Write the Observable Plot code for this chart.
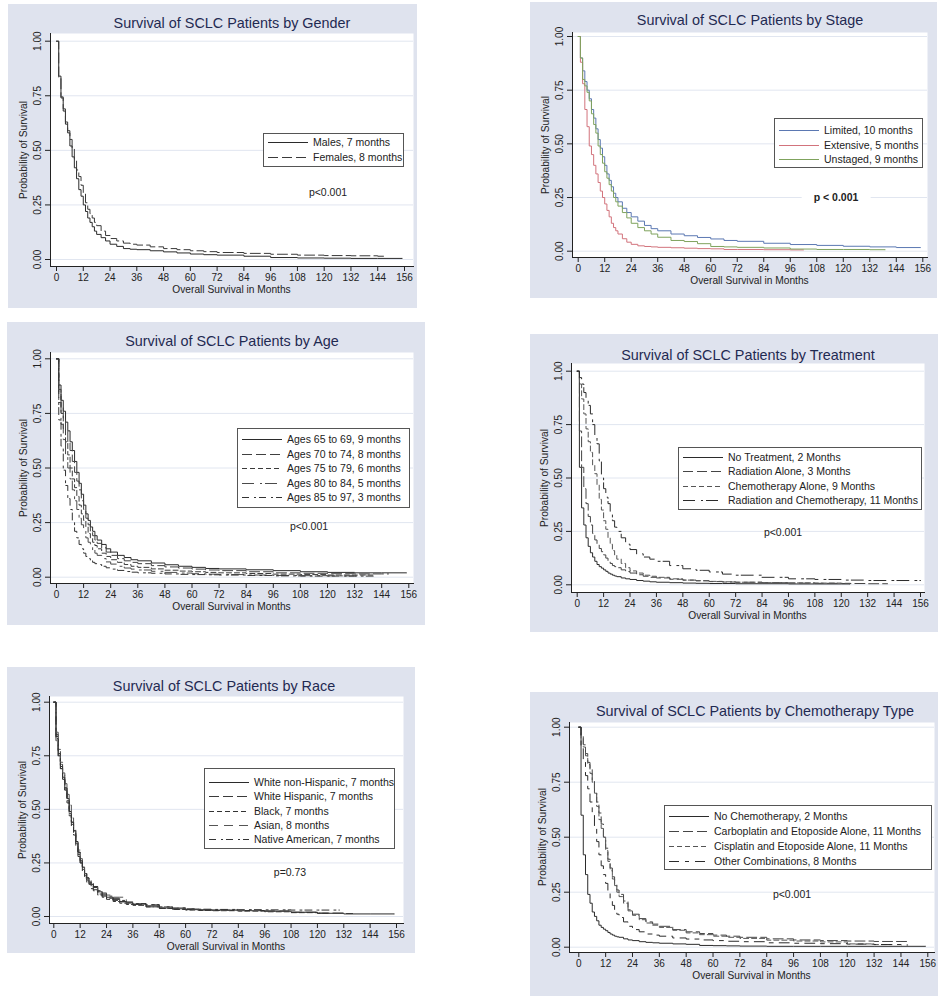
<!DOCTYPE html>
<html><head><meta charset="utf-8">
<script src="https://cdn.jsdelivr.net/npm/d3@7"></script>
<script src="https://cdn.jsdelivr.net/npm/@observablehq/plot@0.6"></script>
<style>
body{margin:0;background:#fff;font-family:"Liberation Sans",Arial,sans-serif;}
#root{position:relative;width:939px;height:996px;overflow:hidden;}
.panel{position:absolute;background:#dfe3ee;}
.panel svg{position:absolute;left:0;top:0;}
.ctr{position:absolute;white-space:nowrap;transform:translate(-50%,-50%);line-height:1;}
.title{font-size:14.4px;color:#1f2a52;}
.axt{font-size:10.2px;color:#222;}
.yt{transform:translate(-50%,-50%) rotate(-90deg);}
.pv{font-size:10.5px;color:#222;}
.legend{position:absolute;background:#fff;border:1px solid #555;box-sizing:border-box;}
.lrow{position:absolute;left:0;height:14px;line-height:14px;font-size:10.5px;color:#222;white-space:nowrap;}
.lrow svg{position:absolute;left:4px;top:0;}
.lrow span{position:absolute;left:49px;top:0;}
</style>
</head><body><div id="root"></div>
<script>
// ---------- shared axis values ----------
const monthTicks = [0,12,24,36,48,60,72,84,96,108,120,132,144,156];
const survTicks = [0,0.25,0.5,0.75,1];
// time grid (months) at which survival values were read
const monthsGrid = [0,1,2,3,4,5,6,7,8,9,10,11,12,13,14,15,16,17,18,20,22,24,27,30,33,36,42,48,54,60,66,72,84,96,108,120,132,144];

// ---------- Gender ----------
const genderLabels = ["Males, 7 months","Females, 8 months"];
const genderEnds = [155,147];
const males   = [1,.84,.74,.68,.62,.58,.52,.47,.42,.37,.32,.29,.25,.22,.19,.17,.15,.13,.115,.10,.085,.07,.06,.05,.047,.045,.04,.035,.03,.025,.022,.02,.015,.009,.007,.006,.005,.005];
const females = [1,.83,.745,.69,.63,.59,.55,.51,.46,.41,.38,.34,.30,.26,.23,.21,.19,.17,.155,.13,.11,.096,.085,.075,.07,.066,.058,.05,.045,.04,.036,.032,.028,.024,.02,.018,.017,.015];

// ---------- Stage ----------
const stageLabels = ["Limited, 10 months","Extensive, 5 months","Unstaged, 9 months"];
const stageEnds = [155,102,139];
const limited   = [1,.90,.84,.79,.75,.71,.66,.62,.57,.52,.48,.44,.40,.36,.33,.30,.27,.25,.23,.20,.18,.16,.14,.12,.105,.095,.08,.072,.064,.057,.05,.046,.037,.031,.027,.023,.02,.017];
const extensive = [1,.88,.78,.66,.58,.49,.45,.40,.36,.32,.28,.25,.22,.19,.16,.13,.11,.095,.08,.058,.042,.032,.025,.022,.02,.018,.016,.014,.012,.011,.008,.008,.007,.006,null,null,null,null];
const unstaged  = [1,.90,.80,.77,.74,.70,.64,.59,.55,.49,.45,.41,.37,.34,.31,.28,.25,.23,.21,.18,.155,.13,.11,.095,.08,.065,.05,.045,.035,.022,.02,.018,.015,.01,.008,.008,.007,null];

// ---------- Age ----------
const ageLabels = ["Ages 65 to 69, 9 months","Ages 70 to 74, 8 months","Ages 75 to 79, 6 months","Ages 80 to 84, 5 months","Ages 85 to 97, 3 months"];
const ageEnds = [155,147,140,133,141];
const age65 = [1,.88,.81,.76,.71,.67,.62,.58,.53,.48,.43,.38,.33,.29,.26,.23,.21,.19,.17,.15,.13,.115,.10,.09,.08,.075,.065,.057,.05,.045,.04,.038,.034,.03,.025,.022,.02,.02];
const age70 = [1,.86,.78,.72,.67,.62,.58,.53,.48,.44,.40,.35,.31,.27,.24,.21,.19,.17,.155,.135,.115,.10,.085,.075,.068,.062,.053,.047,.042,.037,.033,.03,.025,.02,.018,.016,.015,.015];
const age75 = [1,.84,.75,.68,.62,.56,.50,.45,.41,.37,.33,.29,.26,.23,.20,.18,.16,.145,.13,.11,.095,.08,.068,.058,.05,.045,.038,.032,.028,.025,.022,.02,.017,.014,.012,.01,.01,null];
const age80 = [1,.80,.70,.63,.56,.50,.45,.40,.35,.31,.27,.24,.21,.18,.16,.14,.125,.11,.10,.085,.07,.06,.05,.042,.037,.033,.027,.022,.019,.016,.014,.012,.01,.008,.007,.006,.006,null];
const age85 = [1,.72,.60,.49,.42,.36,.31,.26,.21,.18,.15,.13,.11,.095,.085,.075,.068,.062,.058,.05,.043,.037,.031,.026,.023,.02,.018,.015,.013,.012,.011,.01,.008,.006,.005,.005,.005,null];

// ---------- Treatment ----------
const treatLabels = ["No Treatment, 2 Months","Radiation Alone, 3 Months","Chemotherapy Alone, 9 Months","Radiation and Chemotherapy, 11 Months"];
const treatEnds = [124,141,125,156];
const noTreatment = [1,.55,.36,.28,.22,.18,.15,.13,.11,.095,.085,.078,.07,.063,.055,.05,.045,.041,.038,.032,.028,.025,.02,.017,.014,.012,.01,.008,.007,.006,.006,.005,.005,.004,.004,.004,null,null];
const radiationAlone = [1,.72,.55,.45,.38,.32,.28,.24,.21,.19,.17,.155,.14,.125,.11,.10,.09,.085,.08,.07,.062,.055,.047,.04,.035,.032,.026,.022,.019,.015,.013,.012,.01,.008,.007,.006,.005,null];
const chemoAlone = [1,.94,.87,.80,.73,.67,.62,.56,.52,.47,.40,.35,.30,.26,.22,.19,.16,.14,.12,.10,.08,.065,.055,.045,.04,.035,.028,.022,.019,.016,.014,.012,.01,.009,.008,.007,null,null];
const radChemo = [1,.97,.94,.90,.87,.84,.80,.75,.70,.66,.58,.50,.45,.41,.38,.34,.30,.27,.25,.22,.19,.165,.145,.13,.12,.11,.09,.075,.068,.06,.05,.045,.035,.028,.025,.022,.02,.02];

// ---------- Race ----------
const raceLabels = ["White non-Hispanic, 7 months","White Hispanic, 7 months","Black, 7 months","Asian, 8 months","Native American, 7 months"];
const raceEnds = [155,136,125,108,130];
const whiteNonHisp = [1,.84,.76,.70,.65,.60,.55,.49,.44,.40,.35,.30,.26,.23,.20,.18,.16,.15,.135,.115,.10,.09,.08,.07,.063,.058,.05,.04,.036,.033,.031,.03,.028,.025,.02,.015,.012,.012];
const whiteHisp = [1,.85,.77,.71,.66,.60,.54,.48,.43,.39,.34,.29,.25,.22,.19,.17,.155,.14,.125,.105,.095,.085,.075,.068,.062,.056,.045,.038,.034,.032,.03,.028,.027,.025,.02,.016,.014,null];
const black = [1,.83,.75,.69,.64,.59,.53,.47,.42,.38,.33,.28,.25,.21,.18,.16,.15,.13,.12,.10,.09,.08,.07,.062,.056,.052,.045,.038,.033,.03,.028,.027,.025,.022,.018,.015,null,null];
const asian = [1,.86,.78,.72,.67,.62,.57,.52,.46,.41,.36,.31,.27,.23,.20,.18,.16,.15,.14,.12,.11,.10,.09,.09,.065,.06,.055,.045,.04,.035,.032,.03,.028,.026,.02,null,null,null];
const nativeAm = [1,.82,.74,.69,.64,.59,.54,.49,.44,.40,.35,.30,.26,.23,.20,.18,.17,.155,.14,.12,.105,.095,.085,.075,.068,.06,.055,.045,.04,.036,.034,.033,.032,.031,.03,.03,.03,null];

// ---------- Chemotherapy type ----------
const chemoLabels = ["No Chemotherapy, 2 Months","Carboplatin and Etoposide Alone, 11 Months","Cisplatin and Etoposide Alone, 11 Months","Other Combinations, 8 Months"];
const chemoEnds = [155,147,140,147];
const noChemo = [1,.60,.42,.33,.24,.20,.16,.14,.12,.10,.09,.082,.075,.067,.06,.055,.05,.047,.045,.038,.033,.03,.025,.022,.02,.018,.015,.013,.008,.007,.006,.005,.004,.004,.004,.004,.004,.004];
const carboEto = [1,.96,.92,.88,.84,.81,.76,.70,.66,.61,.56,.50,.45,.40,.36,.32,.29,.26,.24,.21,.17,.15,.13,.115,.105,.095,.08,.07,.062,.055,.05,.045,.038,.033,.03,.028,.026,.026];
const cisEto = [1,.95,.91,.87,.83,.79,.75,.70,.64,.58,.54,.50,.44,.39,.35,.31,.28,.25,.23,.20,.165,.145,.125,.11,.10,.09,.077,.065,.057,.05,.045,.04,.032,.028,.024,.015,.012,null];
const otherCombo = [1,.91,.84,.78,.72,.66,.61,.55,.48,.42,.37,.33,.29,.25,.22,.19,.17,.15,.135,.115,.095,.08,.07,.06,.055,.05,.042,.037,.033,.03,.027,.025,.02,.018,.016,.014,.012,.01];

// ---------- styles ----------
const SOLID = null, LDASH = "10,4", SDASH = "5,3", LDASHDOT = "12,6,2,3", DASHDOT = "7,5,2,3", WDASH = "9,6", DASHSHORT = "10,6,4,6";

const panels = [
  {title:"Survival of SCLC Patients by Gender", box:{l:8,t:4,r:417,b:308}, frame:{l:50,t:33,r:413,b:266}, map:{x0:56,x156:404,y0:259,y1:40.7}, titleXY:[232,23],
   series:[males,females], labels:genderLabels, ends:genderEnds, dash:[SOLID,LDASH], colors:["#2b2b2b","#3a3a3a"],
   legend:{l:263,t:133,w:141,h:34,first:9,gap:15}, p:{text:"p<0.001", x:328, y:192}},
  {title:"Survival of SCLC Patients by Stage", box:{l:530,t:2,r:937,b:298}, frame:{l:572,t:32,r:927,b:257}, map:{x0:577.7,x156:922.3,y0:250.7,y1:36}, titleXY:[750,20],
   series:[limited,extensive,unstaged], labels:stageLabels, ends:stageEnds, dash:[SOLID,SOLID,SOLID], colors:["#5b78b2","#d2737c","#7fa35d"],
   legend:{l:774,t:118,w:149,h:50,first:12,gap:14.5}, p:{text:"p < 0.001", x:836, y:197, bold:true}},
  {title:"Survival of SCLC Patients by Age", box:{l:7,t:322,r:425,b:625}, frame:{l:50,t:352,r:413,b:583}, map:{x0:56,x156:408.3,y0:576.7,y1:358.3}, titleXY:[232,341],
   series:[age65,age70,age75,age80,age85], labels:ageLabels, ends:ageEnds, dash:[SOLID,LDASH,SDASH,LDASHDOT,DASHDOT], colors:["#2b2b2b","#404040","#3a3a3a","#4a4a4a","#333"],
   legend:{l:237,t:428,w:173,h:80,first:11,gap:14.5}, p:{text:"p<0.001", x:309, y:526}},
  {title:"Survival of SCLC Patients by Treatment", box:{l:530,t:334,r:938,b:632}, frame:{l:571,t:363,r:924,b:592}, map:{x0:576.7,x156:920,y0:584.3,y1:370.7}, titleXY:[748,355],
   series:[noTreatment,radiationAlone,chemoAlone,radChemo], labels:treatLabels, ends:treatEnds, dash:[SOLID,LDASH,SDASH,LDASHDOT], colors:["#2b2b2b","#454545","#555","#2b2b2b"],
   legend:{l:678,t:447,w:244,h:63,first:10,gap:14.3}, p:{text:"p<0.001", x:783, y:532}},
  {title:"Survival of SCLC Patients by Race", box:{l:7,t:667,r:415,b:953}, frame:{l:49,t:696,r:403,b:923}, map:{x0:53.3,x156:396,y0:916,y1:701.7}, titleXY:[224,686],
   series:[whiteNonHisp,whiteHisp,black,asian,nativeAm], labels:raceLabels, ends:raceEnds, dash:[SOLID,LDASH,SDASH,WDASH,DASHDOT], colors:["#2b2b2b","#3a3a3a","#333","#555","#333"],
   legend:{l:204,t:768,w:191,h:81,first:14,gap:14.25}, p:{text:"p=0.73", x:290, y:872}},
  {title:"Survival of SCLC Patients by Chemotherapy Type", box:{l:530,t:692,r:938,b:996}, frame:{l:569,t:722,r:934,b:952}, map:{x0:578.3,x156:927.3,y0:946.7,y1:726.7}, titleXY:[755,711],
   series:[noChemo,carboEto,cisEto,otherCombo], labels:chemoLabels, ends:chemoEnds, dash:[SOLID,LDASH,SDASH,DASHSHORT], colors:["#2b2b2b","#454545","#555","#2b2b2b"],
   legend:{l:664,t:805,w:268,h:65,first:11,gap:15}, p:{text:"p<0.001", x:792, y:894}}
];

const root = document.getElementById("root");
function el(tag, cls, css, text){const e=document.createElement(tag); if(cls) e.className=cls; if(css) Object.assign(e.style,css); if(text!=null) e.textContent=text; root.appendChild(e); return e;}

function curveData(values, end){
  const pts = [];
  monthsGrid.forEach((t,i)=>{ if (values[i]!=null && t<=end) pts.push({t, s:values[i]}); });
  pts.push({t:end, s:pts[pts.length-1].s});
  return pts;
}

for (const P of panels){
  const {box, frame, map} = P;
  const W = box.r-box.l, H = box.b-box.t;
  const div = el("div","panel",{left:box.l+"px",top:box.t+"px",width:W+"px",height:H+"px"});
  const lineMarks = P.series.map((vals,i)=>Plot.line(curveData(vals,P.ends[i]),{x:"t",y:"s",curve:"step-after",stroke:P.colors[i],strokeWidth:1,strokeDasharray:P.dash[i]||undefined}));
  const svg = Plot.plot({
    width:W, height:H,
    marginLeft:frame.l-box.l, marginRight:box.r-frame.r, marginTop:frame.t-box.t, marginBottom:box.b-frame.b,
    style:{background:"transparent", fontFamily:"'Liberation Sans', Arial, sans-serif", fontSize:"10px", color:"#222"},
    x:{domain:[0,156], range:[map.x0-box.l, map.x156-box.l]},
    y:{domain:[0,1], range:[map.y0-box.t, map.y1-box.t]},
    marks:[
      Plot.frame({fill:"white", stroke:null}),
      Plot.gridY(survTicks,{stroke:"#e1e6f0", strokeOpacity:1}),
      ...lineMarks,
      Plot.frame({anchor:"left", stroke:"#222"}),
      Plot.frame({anchor:"bottom", stroke:"#222"}),
      Plot.axisX(monthTicks,{tickSize:5, tickPadding:2, label:null, fontSize:10}),
      Plot.axisY(survTicks,{tickSize:5, tickPadding:5, tickRotate:-90, tickFormat:d3.format(".2f"), label:null, fontSize:10})
    ]
  });
  div.appendChild(svg);
  // title
  el("div","ctr title",{left:P.titleXY[0]+"px",top:P.titleXY[1]+"px"},P.title);
  // axis titles
  el("div","ctr axt",{left:((frame.l+frame.r)/2)+"px",top:(frame.b+24)+"px"},"Overall Survival in Months");
  el("div","ctr axt yt",{left:(frame.l-26)+"px",top:((frame.t+frame.b)/2)+"px"},"Probability of Survival");
  // p-value
  const pe = el("div","ctr pv",{left:P.p.x+"px",top:P.p.y+"px"},P.p.text);
  if (P.p.bold){ pe.style.fontWeight="bold"; pe.style.background="#fff"; pe.style.padding="2px 12px"; }
  // legend
  const L = P.legend;
  const lg = el("div","legend",{left:L.l+"px",top:L.t+"px",width:L.w+"px",height:L.h+"px"});
  P.labels.forEach((lab,i)=>{
    const row = document.createElement("div"); row.className="lrow";
    row.style.top=(L.first + i*L.gap - 7 - 1)+"px"; row.style.width=(L.w-2)+"px";
    const ns="http://www.w3.org/2000/svg";
    const s=document.createElementNS(ns,"svg"); s.setAttribute("width","40"); s.setAttribute("height","14");
    const ln=document.createElementNS(ns,"line"); ln.setAttribute("x1","0"); ln.setAttribute("x2","40"); ln.setAttribute("y1","7.5"); ln.setAttribute("y2","7.5");
    ln.setAttribute("stroke",P.colors[i]); ln.setAttribute("stroke-width","1"); if(P.dash[i]) ln.setAttribute("stroke-dasharray",P.dash[i]);
    s.appendChild(ln); row.appendChild(s);
    const sp=document.createElement("span"); sp.textContent=lab; row.appendChild(sp);
    lg.appendChild(row);
  });
}
</script>
</body></html>
